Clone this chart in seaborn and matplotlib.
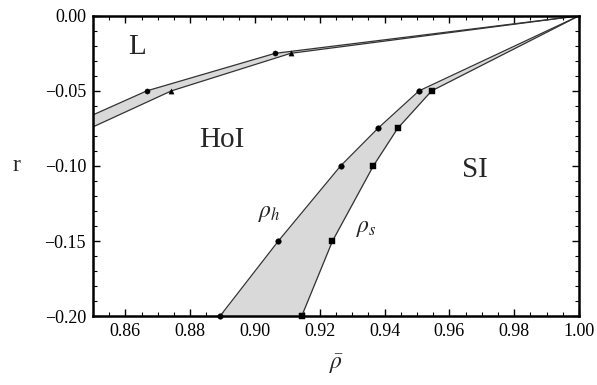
import numpy as np
import pandas as pd
import matplotlib
matplotlib.use("Agg")
import matplotlib.pyplot as plt
import seaborn as sns
from matplotlib.ticker import MultipleLocator

# L / HoI boundary band
lh_upper_x = [0.85, 0.8666, 0.9062, 1.0]
lh_upper_y = [-0.066, -0.05, -0.025, 0.0]
lh_lower_x = [0.85, 0.8742, 0.911, 1.0]
lh_lower_y = [-0.074, -0.05, -0.025, 0.0]

# HoI / SI boundary band (rho_h and rho_s)
r_vals = [-0.20, -0.15, -0.10, -0.075, -0.05, 0.0]
rho_h = [0.8892, 0.9072, 0.9264, 0.9379, 0.9506, 1.0]
rho_s = [0.9144, 0.9239, 0.9365, 0.9440, 0.9545, 1.0]

sns.set_style("ticks")
plt.rcParams["font.family"] = ["Liberation Serif", "DejaVu Serif"]
plt.rcParams["mathtext.fontset"] = "stix"

fig = plt.figure(figsize=(5.97, 3.85), dpi=100)
ax = fig.add_axes([0.1558, 0.179, 0.8142, 0.780])

fill_c = "#d9d9d9"
line_c = "#333333"

# bands
ax.fill(lh_upper_x + lh_lower_x[::-1], lh_upper_y + lh_lower_y[::-1],
        color=fill_c, lw=0, zorder=1)
ax.fill_betweenx(r_vals, rho_h, rho_s, color=fill_c, lw=0, zorder=1)

df_up = pd.DataFrame({"x": lh_upper_x, "y": lh_upper_y})
df_lo = pd.DataFrame({"x": lh_lower_x, "y": lh_lower_y})
df_h = pd.DataFrame({"x": rho_h, "y": r_vals})
df_s = pd.DataFrame({"x": rho_s, "y": r_vals})

for d in (df_up, df_lo, df_h, df_s):
    sns.lineplot(data=d, x="x", y="y", sort=False, estimator=None,
                 color=line_c, lw=0.9, ax=ax, zorder=2)

sns.scatterplot(data=df_up.iloc[1:3], x="x", y="y", marker="o", s=14,
                color="black", edgecolor="black", ax=ax, zorder=3)
sns.scatterplot(data=df_lo.iloc[1:3], x="x", y="y", marker="^", s=14,
                color="black", edgecolor="black", ax=ax, zorder=3)
sns.scatterplot(data=df_h.iloc[:-1], x="x", y="y", marker="o", s=16,
                color="black", edgecolor="black", ax=ax, zorder=3, clip_on=False)
sns.scatterplot(data=df_s.iloc[:-1], x="x", y="y", marker="s", s=14,
                color="black", edgecolor="black", ax=ax, zorder=3, clip_on=False)

ax.set_xlim(0.85, 1.0)
ax.set_ylim(-0.20, 0.0)
ax.xaxis.set_major_locator(MultipleLocator(0.02))
ax.xaxis.set_minor_locator(MultipleLocator(0.005))
ax.yaxis.set_major_locator(MultipleLocator(0.05))
ax.yaxis.set_minor_locator(MultipleLocator(0.01))
ax.xaxis.set_major_formatter(matplotlib.ticker.FormatStrFormatter("%.2f"))
ax.yaxis.set_major_formatter(matplotlib.ticker.FuncFormatter(
    lambda v, p: ("\u2212%.2f" % abs(v)) if v < -1e-9 else "0.00"))

for s in ax.spines.values():
    s.set_linewidth(1.8)
    s.set_color("black")
ax.tick_params(which="both", direction="in", top=True, right=True,
               labelsize=13, colors="black", pad=5)
ax.tick_params(which="major", length=5, width=1.0)
ax.tick_params(which="minor", length=3, width=0.8)

ax.set_xlabel(r"$\bar{\rho}$", fontsize=17, labelpad=9)
ax.set_ylabel("r", fontsize=17, rotation=0, labelpad=20, va="center")

ax.text(0.8635, -0.021, "L", fontsize=21, ha="center", va="center")
ax.text(0.8898, -0.0828, "HoI", fontsize=21, ha="center", va="center")
ax.text(0.9680, -0.103, "SI", fontsize=21, ha="center", va="center")
ax.text(0.9045, -0.1315, r"$\rho_h$", fontsize=17, ha="center", va="center")
ax.text(0.9345, -0.1420, r"$\rho_s$", fontsize=17, ha="center", va="center")

fig.savefig("out.png", dpi=100)
